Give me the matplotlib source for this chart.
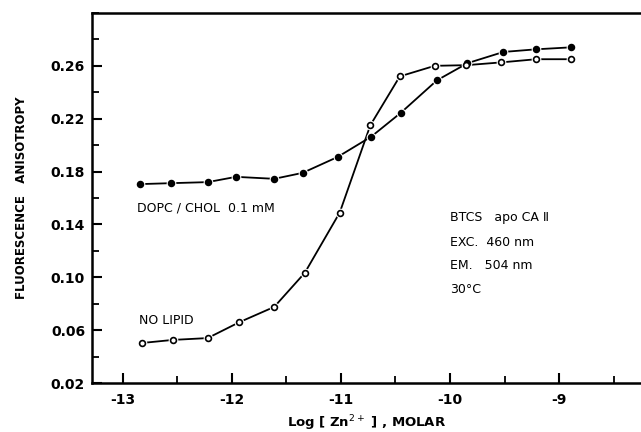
import numpy as np
import matplotlib
matplotlib.use('Agg')
import matplotlib.pyplot as plt
from matplotlib.ticker import MultipleLocator

# log [Zn2+] values and anisotropy
x_lipid = [-12.84, -12.56, -12.22, -11.96, -11.61, -11.35, -11.03,
           -10.72, -10.45, -10.12, -9.84, -9.51, -9.21, -8.89]
r_lipid = [0.1705, 0.1712, 0.1720, 0.1760, 0.1745, 0.1790, 0.1910,
           0.2065, 0.2245, 0.2490, 0.2620, 0.2705, 0.2725, 0.2740]

x_nolipid = [-12.82, -12.54, -12.22, -11.93, -11.61, -11.33, -11.01,
             -10.73, -10.46, -10.14, -9.85, -9.53, -9.21, -8.89]
r_nolipid = [0.0503, 0.0526, 0.0540, 0.0660, 0.0776, 0.1034, 0.1490,
             0.2150, 0.2520, 0.2600, 0.2605, 0.2626, 0.2650, 0.2650]

xticks = [-13, -12, -11, -10, -9]
yticks = [0.02, 0.06, 0.10, 0.14, 0.18, 0.22, 0.26]

plt.rcParams['font.family'] = ['DejaVu Sans']

fig = plt.figure(figsize=(6.41, 4.32), dpi=100)
ax = fig.add_axes([0.1435, 0.1134, 0.8565, 0.8566])

for xs, ys, face in [(x_lipid, r_lipid, 'black'), (x_nolipid, r_nolipid, 'white')]:
    ax.plot(xs, ys, color='black', lw=1.3, zorder=2)
    # white halo so the line breaks near each point
    ax.plot(xs, ys, ls='none', marker='o', ms=7, mfc='white', mec='none', zorder=3)
    ax.plot(xs, ys, ls='none', marker='o', ms=4.2, mfc=face, mec='black', mew=1.2, zorder=4)

ax.set_xlim(-13.28, -8.25)
ax.set_ylim(0.02, 0.300)
ax.set_xticks(xticks)
ax.set_xticklabels(['-%d' % abs(v) for v in xticks])
ax.set_yticks(yticks)
ax.set_yticklabels(['%.2f' % v for v in yticks])
ax.xaxis.set_minor_locator(MultipleLocator(0.5))
ax.yaxis.set_minor_locator(MultipleLocator(0.02))
ax.tick_params(which='major', direction='in', length=7, width=1.5, labelsize=10, pad=7)
ax.tick_params(which='minor', direction='in', length=5, width=1.3)
ax.tick_params(axis='y', which='major', pad=5)
for lab in ax.get_xticklabels() + ax.get_yticklabels():
    lab.set_fontweight('bold')

for s in ['left', 'top', 'bottom']:
    ax.spines[s].set_linewidth(1.8)
ax.spines['right'].set_visible(False)

ax.set_ylabel('FLUORESCENCE   ANISOTROPY', fontsize=8.5, fontweight='bold', labelpad=16)
ax.set_xlabel(r'Log [ Zn$^{2+}$ ] , MOLAR', fontsize=9.5, fontweight='bold', labelpad=5)

ax.text(-12.87, 0.1527, 'DOPC / CHOL  0.1 mM', fontsize=9, va='center')
ax.text(-12.85, 0.0670, 'NO LIPID', fontsize=9, va='center')
ax.text(-10.0, 0.1450, 'BTCS   apo CA \u2161', fontsize=9, va='center')
ax.text(-10.0, 0.1260, 'EXC.  460 nm', fontsize=9, va='center')
ax.text(-10.0, 0.1087, 'EM.   504 nm', fontsize=9, va='center')
ax.text(-10.0, 0.0905, '30\u00b0C', fontsize=9, va='center')

fig.savefig('out.png', dpi=100)
